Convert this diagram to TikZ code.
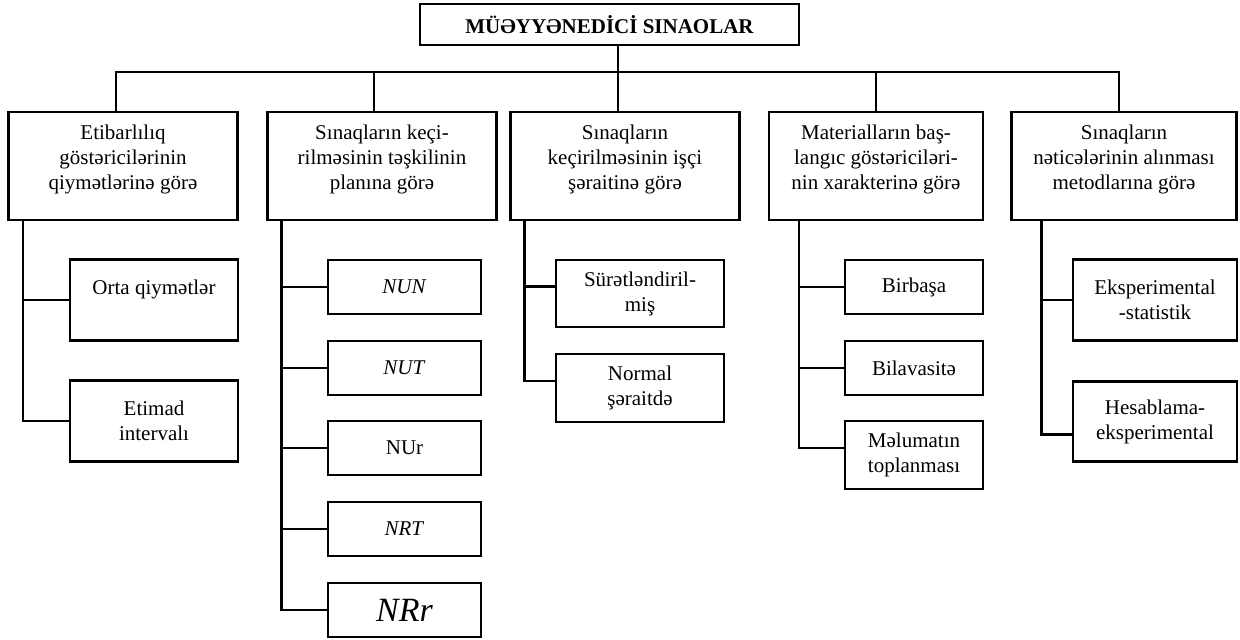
\documentclass[tikz,border=0pt]{standalone}
\usepackage{fontspec}
\setmainfont{Liberation Serif}
\tikzset{
  box/.style={draw, line width=1.1pt, align=center, inner sep=1pt,
    font=\fontsize{10.5}{12.5}\selectfont},
  link/.style={line width=1.1pt}
}
\begin{document}
\begin{tikzpicture}[x=0.5pt,y=-0.5pt]
    \useasboundingbox (0,0) rectangle (1240,639);
    \node[box, minimum width=189.5pt, minimum height=20.5pt, font=\fontsize{10.5}{12.5}\selectfont\bfseries] (top) at (609.5,24.5) {MÜƏYYƏNEDİCİ SINAOLAR};
    \coordinate (bus) at (618,72);
    % first level
    \node[box, minimum width=114.5pt, minimum height=54pt] (b1) at (123,166) {Etibarlılıq\\göstəricilərinin\\qiymətlərinə görə\\[-4pt]};
    \node[box, minimum width=114.5pt, minimum height=54pt] (b2) at (382,166) {Sınaqların keçi-\\rilməsinin təşkilinin\\planına görə\\[-4pt]};
    \node[box, minimum width=114.5pt, minimum height=54pt] (b3) at (625,166) {Sınaqların\\keçirilməsinin işçi\\şəraitinə görə\\[-4pt]};
    \node[box, minimum width=107pt, minimum height=54pt] (b4) at (876,166) {Materialların baş-\\langıc göstəriciləri-\\nin xarakterinə görə\\[-4pt]};
    \node[box, minimum width=112.5pt, minimum height=54pt] (b5) at (1124,166) {Sınaqların\\nəticələrinin alınması\\metodlarına görə\\[-4pt]};
    % trunks
    \coordinate (t1) at ([xshift=7.75pt]b1.south west);
    \coordinate (t2) at ([xshift=7.5pt]b2.south west);
    \coordinate (t3) at ([xshift=7.5pt]b3.south west);
    \coordinate (t4) at ([xshift=15.5pt]b4.south west);
    \coordinate (t5) at ([xshift=15.5pt]b5.south west);
    % second level
    \node[box, minimum width=84pt, minimum height=40.5pt] (c11) at (154,300) {Orta qiymətlər\\\mbox{}};
    \node[box, minimum width=84pt, minimum height=40.5pt] (c12) at (154,421) {Etimad\\intervalı};
    \node[box, minimum width=76.5pt, minimum height=27pt] (c21) at (404.5,287) {\textit{NUN}};
    \node[box, minimum width=76.5pt, minimum height=27pt] (c22) at (404.5,368) {\textit{NUT}};
    \node[box, minimum width=76.5pt, minimum height=27pt] (c23) at (404.5,448) {NUr};
    \node[box, minimum width=76.5pt, minimum height=27pt] (c24) at (404.5,529) {\textit{NRT}};
    \node[box, minimum width=76.5pt, minimum height=27pt, font=\fontsize{17}{20}\selectfont\itshape] (c25) at (404.5,610) {NRr};
    \node[box, minimum width=84pt, minimum height=33.5pt] (c31) at (640,293.5) {Sürətləndiril-\\miş};
    \node[box, minimum width=84pt, minimum height=34pt] (c32) at (640,388) {Normal\\şəraitdə};
    \node[box, minimum width=69pt, minimum height=27pt] (c41) at (914,287) {Birbaşa};
    \node[box, minimum width=69pt, minimum height=27pt] (c42) at (914,368) {Bilavasitə};
    \node[box, minimum width=69pt, minimum height=34pt] (c43) at (914,455) {Məlumatın\\toplanması};
    \node[box, minimum width=82pt, minimum height=40.5pt] (c51) at (1155,300) {Eksperimental\\-statistik};
    \node[box, minimum width=82pt, minimum height=40pt] (c52) at (1155,421.5) {Hesablama-\\eksperimental};
    % bus
    \draw[link] (top.south -| bus) -- (bus);
    \foreach \n/\dx in {b1/-7, b2/-8, b3/-7, b4/0, b5/-5}
        \draw[link] ([xshift=\dx*0.5pt]\n.north) |- (bus);
    % branches
    \draw[link] (t1) |- (c12.west);
    \draw[link] (t2) |- (c25.west);
    \draw[link] (t3) |- ([yshift=3.5pt]c32.west);
    \draw[link] (t4) |- ([yshift=3.5pt]c43.west);
    \draw[link] (t5) |- ([yshift=-6.5pt]c52.west);
    \foreach \c/\t in {c11/t1, c21/t2, c22/t2, c23/t2, c24/t2, c41/t4, c42/t4, c51/t5}
        \draw[link] (\c.west) -- (\c.west -| \t);
    \draw[link] ([yshift=3.5pt]c31.west) -- ([yshift=3.5pt]c31.west -| t3);
\end{tikzpicture}
\end{document}
